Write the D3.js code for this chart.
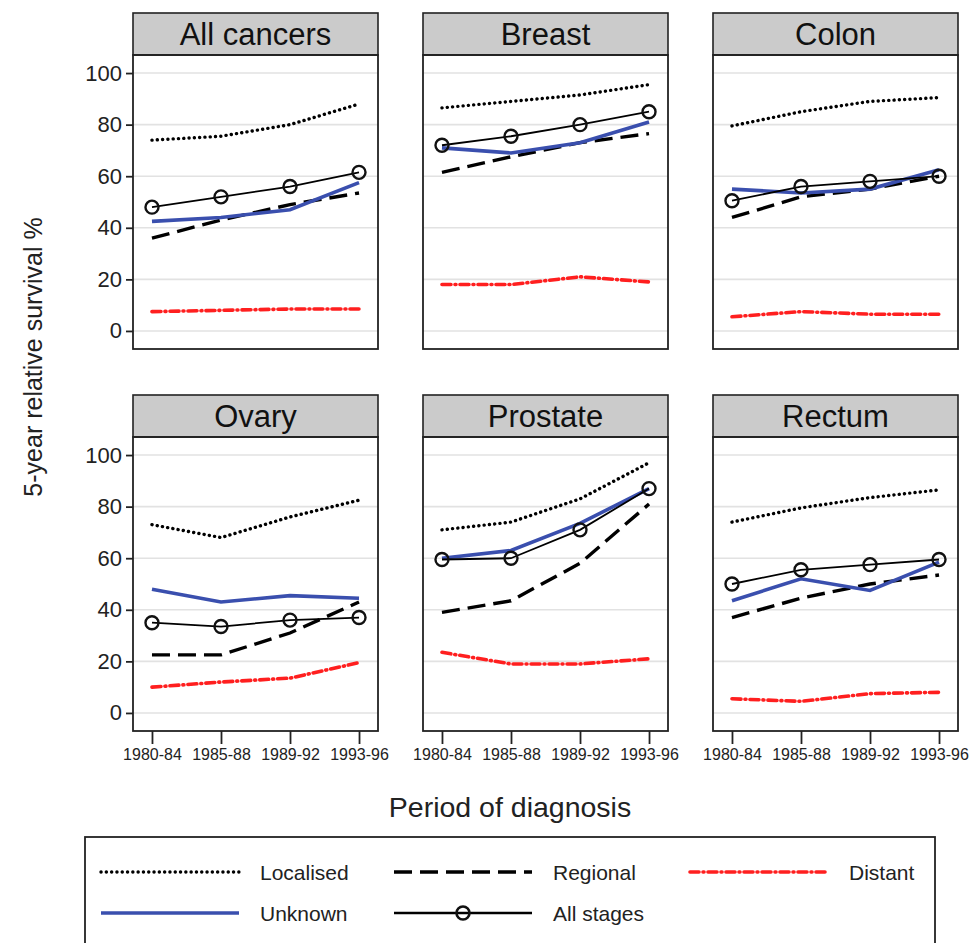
<!DOCTYPE html>
<html>
<head>
<meta charset="utf-8">
<script src="https://cdn.jsdelivr.net/npm/d3@7"></script>
<style>
  html, body { margin: 0; padding: 0; background: #fff; }
  svg { display: block; font-family: "Liberation Sans", Arial, Helvetica, sans-serif; }
</style>
</head>
<body>
<svg id="chart" width="974" height="943"></svg>
<script>
// Diagnosis periods (x axis) and cancer sites (one panel each)
const periods = ["1980-84", "1985-88", "1989-92", "1993-96"];
const sites = ["All cancers", "Breast", "Colon", "Ovary", "Prostate", "Rectum"];
const yTicks = [0, 20, 40, 60, 80, 100];

// 5-year relative survival (%) by stage, one row per site in the order above
const localised = [
  [74, 75.5, 80, 88],
  [86.5, 89, 91.5, 95.5],
  [79.5, 85, 89, 90.5],
  [73, 68, 76, 82.5],
  [71, 74, 83, 97],
  [74, 79.5, 83.5, 86.5]
];
const regional = [
  [36, 43, 49, 53.5],
  [61.5, 67.5, 73, 76.5],
  [44, 52, 55, 60],
  [22.5, 22.5, 31, 43],
  [39, 43.5, 58, 81],
  [37, 44.5, 50, 53.5]
];
const distant = [
  [7.5, 8, 8.5, 8.5],
  [18, 18, 21, 19],
  [5.5, 7.5, 6.5, 6.5],
  [10, 12, 13.5, 19.5],
  [23.5, 19, 19, 21],
  [5.5, 4.5, 7.5, 8]
];
const unknown = [
  [42.5, 44, 47, 57.5],
  [71, 69, 73, 81],
  [55, 53.5, 55, 62.5],
  [48, 43, 45.5, 44.5],
  [60, 63, 73.5, 87],
  [43.5, 52, 47.5, 58.5]
];
const allStages = [
  [48, 52, 56, 61.5],
  [72, 75.5, 80, 85],
  [50.5, 56, 58, 60],
  [35, 33.5, 36, 37],
  [59.5, 60, 71, 87],
  [50, 55.5, 57.5, 59.5]
];

// Line styles for each stage
const stages = [
  { name: "Localised", values: localised, color: "#000", width: 3.4, dash: "0.1 5.2", cap: "round", markers: false },
  { name: "Regional", values: regional, color: "#000", width: 3.4, dash: "18 8", cap: "butt", markers: false },
  { name: "Distant", values: distant, color: "#ff1f1f", width: 3.6, dash: "9 4 1 4", cap: "round", markers: false },
  { name: "Unknown", values: unknown, color: "#3a4fae", width: 3.6, dash: null, cap: "butt", markers: false },
  { name: "All stages", values: allStages, color: "#000", width: 1.8, dash: null, cap: "butt", markers: true }
];

const svg = d3.select("#chart");

// Panel grid geometry
const colX = [133, 423, 713];
const rowTop = [13, 395];
const panelW = 245;
const stripH = 42;
const plotH = 294;

const x = d3.scalePoint().domain(periods).range([0, panelW]).padding(0.275);
const y = d3.scaleLinear().domain([-7, 107]).range([plotH, 0]);

const line = d3.line()
  .x((d, i) => x(periods[i]))
  .y(d => y(d));

sites.forEach((site, si) => {
  const col = si % 3, row = Math.floor(si / 3);
  const g = svg.append("g")
    .attr("transform", `translate(${colX[col]},${rowTop[row]})`);

  // Strip header
  g.append("rect")
    .attr("x", 0).attr("y", 0)
    .attr("width", panelW).attr("height", stripH)
    .attr("fill", "#cbcbcb").attr("stroke", "#222").attr("stroke-width", 1.6);
  g.append("text")
    .attr("x", panelW / 2).attr("y", stripH / 2 + 11)
    .attr("text-anchor", "middle")
    .attr("font-size", 31)
    .attr("fill", "#111")
    .text(site);

  const p = g.append("g").attr("transform", `translate(0,${stripH})`);

  // Horizontal grid lines
  p.selectAll("line.grid").data(yTicks).join("line")
    .attr("class", "grid")
    .attr("x1", 0).attr("x2", panelW)
    .attr("y1", d => y(d)).attr("y2", d => y(d))
    .attr("stroke", "#e2e2e2").attr("stroke-width", 1.6);

  // Stage lines
  stages.forEach(s => {
    p.append("path")
      .datum(s.values[si])
      .attr("d", line)
      .attr("fill", "none")
      .attr("stroke", s.color)
      .attr("stroke-width", s.width)
      .attr("stroke-linecap", s.cap)
      .attr("stroke-dasharray", s.dash);
    if (s.markers) {
      p.selectAll(null).data(s.values[si]).join("circle")
        .attr("cx", (d, i) => x(periods[i]))
        .attr("cy", d => y(d))
        .attr("r", 6.5)
        .attr("fill", "none")
        .attr("stroke", "#111")
        .attr("stroke-width", 2.4);
    }
  });

  // Panel frame
  p.append("rect")
    .attr("x", 0).attr("y", 0)
    .attr("width", panelW).attr("height", plotH)
    .attr("fill", "none").attr("stroke", "#222").attr("stroke-width", 1.8);

  // Y axis on first column
  if (col === 0) {
    const ya = p.append("g")
      .call(d3.axisLeft(y).tickValues(yTicks).tickSize(7).tickPadding(4));
    ya.select(".domain").remove();
    ya.selectAll(".tick line").attr("stroke", "#222").attr("stroke-width", 1.8);
    ya.selectAll(".tick text")
      .attr("font-size", 22).attr("fill", "#222")
      .attr("font-family", "Liberation Sans, Arial, sans-serif");
  }

  // X axis on bottom row
  if (row === 1) {
    const xa = p.append("g")
      .attr("transform", `translate(0,${plotH})`)
      .call(d3.axisBottom(x).tickSize(13).tickPadding(5));
    xa.select(".domain").remove();
    xa.selectAll(".tick line").attr("stroke", "#222").attr("stroke-width", 1.8);
    xa.selectAll(".tick text")
      .attr("font-size", 16).attr("fill", "#222")
      .attr("font-family", "Liberation Sans, Arial, sans-serif");
  }
});

// Axis titles
svg.append("text")
  .attr("transform", "translate(42,357) rotate(-90)")
  .attr("text-anchor", "middle")
  .attr("font-size", 25)
  .attr("fill", "#222")
  .text("5-year relative survival %");

svg.append("text")
  .attr("x", 510).attr("y", 817)
  .attr("text-anchor", "middle")
  .attr("font-size", 28.5)
  .attr("fill", "#222")
  .text("Period of diagnosis");

// Legend
const legend = svg.append("g");
legend.append("rect")
  .attr("x", 85).attr("y", 837)
  .attr("width", 850).attr("height", 120)
  .attr("fill", "#fff").attr("stroke", "#222").attr("stroke-width", 1.8);

const legendPos = [
  { x: 101, y: 872 }, { x: 394, y: 872 }, { x: 690, y: 872 },
  { x: 101, y: 913 }, { x: 394, y: 913 }
];
const legendLineLen = 138;

stages.forEach((s, i) => {
  const pos = legendPos[i];
  const lg = legend.append("g").attr("transform", `translate(${pos.x},${pos.y})`);
  lg.append("line")
    .attr("x1", 0).attr("x2", legendLineLen)
    .attr("y1", 0).attr("y2", 0)
    .attr("stroke", s.color)
    .attr("stroke-width", s.markers ? 2.6 : s.width)
    .attr("stroke-linecap", s.cap)
    .attr("stroke-dasharray", s.dash);
  if (s.markers) {
    lg.append("circle")
      .attr("cx", legendLineLen / 2).attr("cy", 0).attr("r", 6.5)
      .attr("fill", "none").attr("stroke", "#111").attr("stroke-width", 2.6);
  }
  lg.append("text")
    .attr("x", legendLineLen + 21).attr("y", 8)
    .attr("font-size", 21)
    .attr("fill", "#222")
    .text(s.name);
});
</script>
</body>
</html>
